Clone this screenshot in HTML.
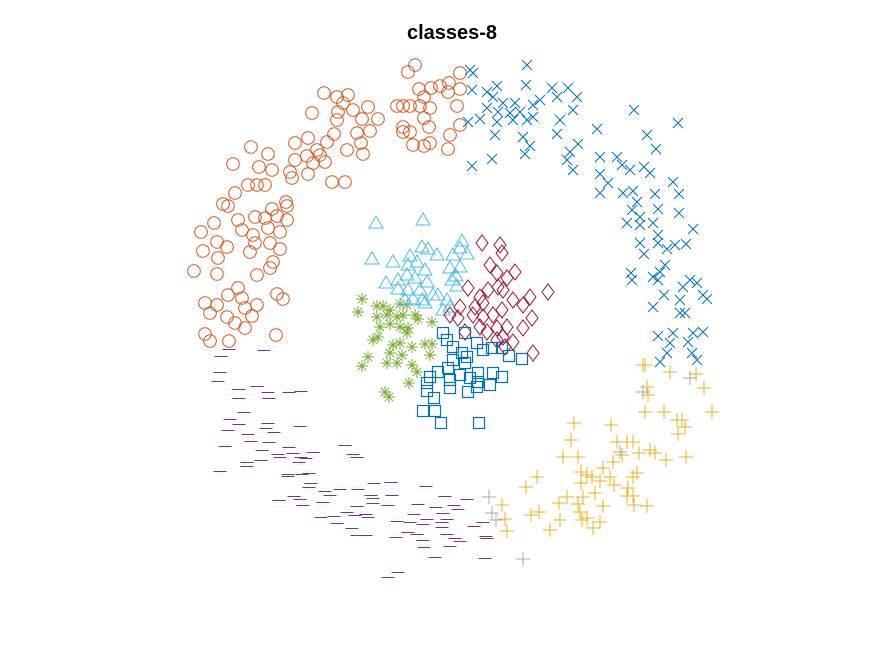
<!DOCTYPE html>
<html><head><meta charset="utf-8"><style>
html,body{margin:0;padding:0;background:#fff;}
svg{display:block;}
</style></head><body>
<svg id="chart" width="875" height="656" viewBox="0 0 875 656" xmlns="http://www.w3.org/2000/svg">
<rect width="875" height="656" fill="#fff"/>
<text x="452" y="39" text-anchor="middle" font-family="Liberation Sans, sans-serif" font-weight="bold" font-size="20" fill="#000">classes-8</text>
<g id="marks"></g>
</svg>
<script>
const classNames=['class-1','class-2','class-3','class-4','class-5','class-6','class-7','class-8'];
const c1=[[41.5,53.5],[40.8,52.8],[46,52.7],[41.9,51.1],[43.1,51.2],[44,51.4],[44.9,51.7],[44.8,50.8],[46,51.1],[42.4,50.3],[32.4,50.7],[33.7,50.3],[34.8,50.5],[34.3,49.7],[35.3,49],[36.8,49.3],[31.2,48.7],[33.8,48.8],[33.7,48],[36.2,48.1],[37.8,48.1],[39.7,49.4],[40.3,49.4],[41,49.4],[42,49.4],[43,49.2],[45.7,49.4],[42.4,48.2],[46,47.5],[40.3,47.3],[40.3,46.8],[41,46.8],[42.9,47.3],[45,46.5],[41.3,45.5],[42.4,45.4],[43,45.7],[44.8,45.1],[35.7,46.7],[37,46.9],[36.1,45.7],[33.4,46.6],[32.7,45.8],[34.7,45],[36.3,44.6],[30.8,46.2],[29.5,45.7],[31.7,45],[32,44.5],[32.5,43.8],[31.3,43.7],[30.7,44.4],[29.5,44],[29,42.8],[29.2,42.2],[30.8,42.6],[33.2,41.8],[34.5,41.8],[25.1,45.3],[26.8,44.6],[23.3,43.6],[25.9,43.3],[27.2,43],[24.8,41.5],[25.7,41.5],[26.5,41.5],[23.5,40.7],[22.3,39.6],[22.8,39.4],[28.6,39.8],[28.7,39.4],[27.2,39.1],[27.7,38.4],[26.5,38.2],[25.5,38.3],[23.8,38],[28.7,38],[21.4,37.7],[20.1,36.8],[24.2,37],[26.8,37.2],[28,36.8],[25.3,36.5],[21.7,35.8],[22.7,35.3],[25.5,35.7],[27,35.7],[28,35.1],[20.3,34.9],[25,34.8],[21.8,34.2],[27.3,33.8],[19.4,32.9],[21.7,32.6],[25.7,32.5],[27,33.2],[22.8,30.5],[23.8,31.2],[24.2,30.2],[20.5,29.7],[21,28.7],[21.7,29.5],[22.7,28.3],[24.5,29.2],[25.7,29.5],[25.2,28.4],[27.7,30.6],[28.3,30.1],[23.5,27.7],[24.5,27.2],[20.5,26.6],[21,25.9],[22.9,25.9],[27.6,26.5]];
const c2=[[52.7,53.5],[47,53],[47.3,52.7],[52.6,51.5],[49.7,51.4],[47.2,51],[48.7,50.8],[55.2,51.2],[56.8,51.2],[57.7,50.3],[55.7,50.3],[49.3,50.3],[50.3,49.7],[51.5,49.7],[54,50],[53.3,49.5],[48.7,49.2],[49.8,48.8],[51,48.7],[52,48.8],[52.7,48],[53.3,48.3],[48,48.1],[46.8,47.8],[49.7,47.8],[51.3,48],[57.3,49],[56,48],[63.4,49],[67.8,47.7],[59.7,47.1],[49.5,46.5],[52.3,46.3],[55.7,46.6],[64.7,46.5],[53,45.4],[52.5,44.6],[57.8,45.6],[57,44.8],[56.7,44],[57.3,43],[49.2,44.1],[47.2,43.4],[65.6,45.1],[60,44.3],[61.7,44.3],[62.2,43.5],[63,43],[64.4,43.3],[65,42.7],[60,42.6],[60.8,41.7],[60,40.7],[62.3,40.7],[63.3,40.9],[67.3,41.8],[67.9,40.6],[65.5,40.6],[63.7,39.8],[63.2,39],[65.8,39.1],[67.9,38.7],[64,38.3],[62.7,37.7],[64,37.5],[65.3,37.7],[69.3,37.1],[65.8,36.5],[64,35.7],[65.8,35.7],[66.7,35.1],[67.5,35.5],[68.6,35.6],[64.4,34.6],[63.1,32.7],[63.2,32],[65.3,32.3],[66,32.8],[66.5,33.5],[65.8,32],[68.3,31.3],[69,32],[69.7,31.7],[70.3,30.5],[70.7,30.1],[66.4,30.5],[68,30],[65.3,29.3],[68,28.7],[68.5,28.7],[65.8,26.4],[67.3,26.7],[67,25.7],[68.8,25.8],[69.3,26.7],[70.3,26.8],[66.7,24.7],[69.2,24.7],[69.7,24],[66,23.8]];
const c3=[[64.3,23.5],[64.5,23.5],[67,22.8],[69.6,22.6],[70.4,21.2],[64.7,21.3],[64.8,20.5],[64.5,18.8],[66.4,18.8],[67.7,18],[68.2,18],[68.5,17.3],[67.8,16.6],[71.2,18.8],[57.4,17.7],[61.1,17.5],[57.1,16],[61.7,15.8],[62.7,15.8],[63.3,15.8],[56.3,14.3],[57.8,14.3],[62.2,14.5],[63.9,14.7],[65,15],[65.5,14.7],[66.6,14],[68.6,14.3],[61.3,13.8],[60.3,13.2],[58.1,12.8],[58.7,12.5],[59.2,12.3],[58.1,11.7],[60,11.9],[61,12.3],[61.4,11.5],[63.3,12.3],[63.7,12.7],[62.8,11.2],[62.7,10.4],[63.3,10.4],[63.4,9.5],[64.7,9.4],[59.5,10.7],[60.3,9.4],[58.3,10.3],[56.7,10.3],[55.9,9.7],[57.8,9.6],[58,8.8],[58.7,8.2],[58.2,8],[60,7.8],[59.3,7.2],[56,8],[55,7],[53.1,8.5],[53.9,8.8],[53.7,12.3],[52.6,11.3],[50.2,9.5],[50.5,8.1],[50.7,6.9]];
const c4=[[22.9,25.1],[26.4,25],[22.1,24.4],[22,22.8],[21.8,21.9],[23.9,21.1],[25.7,21.4],[26.8,20.8],[28.9,20.8],[30.1,20.9],[23.9,20.2],[26.9,20.2],[24.4,18.8],[23,18.1],[23.9,17.6],[26.8,17.7],[22.8,17],[26.6,17.2],[30,17.4],[24.8,16.6],[27.4,16.8],[25.1,15.9],[26.9,15.8],[22.5,15.4],[26.2,15],[28.9,15.3],[27.8,14.6],[28,14.3],[29.3,14.7],[30.1,14.3],[31.3,14.8],[30.6,14.2],[34.5,15.5],[35.3,14.6],[35.7,14.3],[24.7,13.8],[26.1,14],[24.7,13.4],[29.9,13.8],[22,12.9],[28.8,12.6],[28.8,12.4],[30.9,12.7],[30.2,12.6],[31.1,11.7],[30.9,11.3],[32.5,10.9],[34,11.1],[35.8,11.1],[37.4,11.7],[39.1,11.8],[33,10.5],[29.4,10.4],[27.9,10],[30,10.1],[32.3,9.8],[30.3,9.5],[37.1,10.5],[37.3,10.2],[39.2,10.5],[42.6,11.4],[44.5,10.4],[46.7,10.1],[35.7,9.4],[37.3,9.7],[38.8,9.5],[41.8,9.6],[43.6,9.3],[45.4,9.5],[45.8,9.1],[34.7,8.8],[36.6,8.6],[32.1,8.3],[33.4,8.4],[35.5,8.5],[36.8,8.3],[41.4,8.6],[44.3,8.7],[42.7,8.1],[44.7,8.1],[39.7,7.9],[41,7.8],[42.3,7.6],[44.2,7.8],[48.3,7.8],[33.7,7.7],[35.2,7.2],[47.4,7.4],[44.2,7.3],[40.8,6.8],[41.7,6.6],[36.6,6.5],[35.7,6.5],[39.6,6.3],[44.7,6.6],[45.5,6.2],[46,5.9],[48.6,6.4],[48.7,6.2],[42.3,6],[45,5.4],[42.4,5.3],[43.5,4.3],[48.5,4.2],[39.8,2.8],[38.8,2.3]];
const c5=[[36.2,30.1],[35.8,28.8],[37.7,29.4],[38.3,29.4],[39,29],[40,29.6],[40.7,29.5],[37.7,28.3],[38.7,28.5],[39.7,28.3],[40.3,28.5],[41.5,28.5],[41.8,28.1],[38,27.3],[39,27.6],[40,27.3],[40.8,27.2],[43.2,27.8],[37.8,26.3],[37.3,26],[39.3,25.5],[40,25.7],[41.2,25.3],[42.5,25.6],[43.2,25.6],[39,24.7],[40.2,24.5],[43,24.5],[36.8,24.3],[38.7,23.7],[39.7,23.7],[41.2,23.5],[36.2,23.4],[41.7,22.8],[40.9,21.7],[38.5,20.8],[38.9,20.3],[40.7,26.7]];
const c6=[[37.6,37.7],[42.3,38],[37.2,34.1],[39.3,33.8],[41,34.4],[42.2,35.3],[42.8,35.1],[43.7,34.5],[46.2,35.9],[46,35.2],[46.7,34.6],[45.3,34.5],[38.6,31.7],[39.8,32],[40.8,33.5],[41.7,33.8],[42.5,33],[40.7,32.5],[41.5,32.2],[45,33.2],[46,33.3],[45.6,32.4],[45.7,31.4],[39.8,31.1],[40.8,31],[42,31],[43.3,30.5],[43.8,30.5],[42.2,30],[41.3,30.1],[40.5,30],[42.5,29.7],[44.7,30],[44.3,29],[45,29.3],[42.7,31.8],[45.2,32]];
const c7=[[48.2,35.7],[50,35.5],[50.2,34.7],[49,33.5],[49.7,32.7],[50.7,32.2],[51.5,32.8],[46.8,31.2],[48,30.3],[48.8,31],[49.8,31.3],[50.3,31],[51.3,30],[53,30.3],[52.3,29.5],[54.8,30.8],[45,28.5],[46,29.3],[47.5,29.3],[48.3,29.7],[47.3,28.5],[48.3,28.3],[49.3,28.5],[50.2,29],[48,27.3],[48.7,26.8],[49.7,27.2],[50.7,27.3],[50.3,26.3],[51.3,25.8],[52.3,27.2],[53.2,28.2],[46.5,26.8],[45.8,28.2],[53.3,24.7],[50.5,25.3],[49.7,26]];
const c8=[[44.3,26.7],[44.7,26],[46.5,26.7],[47.7,25.7],[48.3,25],[49.2,25.2],[50.2,25.2],[50.9,24.4],[52.2,24.1],[45.3,25.3],[46.2,24.7],[46.7,24.3],[45.3,24],[46.5,23.7],[43.8,22.8],[44.8,23.2],[43,22.3],[42.7,21.7],[45,22],[46,22.5],[47,22.2],[47.8,22.7],[47.8,21.8],[49,21.5],[49.3,22.7],[50.2,22.3],[45,21.2],[46.8,20.8],[47.7,21.3],[42.7,20.9],[43.4,20.2],[42.3,18.9],[43.5,18.9],[44.1,17.7],[47.9,17.7]];
const c9=[[48.9,10.3],[49.2,8.7],[49.6,8],[52.3,4.1],[69,22.2],[62,14.8],[64.3,20.8]];

const X0=0, X1=87.5, Y0=0, Y1=60;
function xScale(v){return (v-X0)/(X1-X0)*875;}
function yScale(v){return 600-(v-Y0)/(Y1-Y0)*600;}
const NS='http://www.w3.org/2000/svg';
const g=document.getElementById('marks');
function el(tag,attrs){const e=document.createElementNS(NS,tag);for(const k in attrs)e.setAttribute(k,attrs[k]);return e;}
function marker(type,color,cx,cy){
  let e;
  if(type==='o') e=el('circle',{cx:cx,cy:cy,r:6.3,fill:'none',stroke:color,'stroke-width':1});
  else if(type==='x'){const s=5;e=el('path',{d:`M${cx-s},${cy-s}L${cx+s},${cy+s}M${cx-s},${cy+s}L${cx+s},${cy-s}`,stroke:color,'stroke-width':1,fill:'none'});}
  else if(type==='+'){const s=7;e=el('path',{d:`M${cx-s},${cy}L${cx+s},${cy}M${cx},${cy-s}L${cx},${cy+s}`,stroke:color,'stroke-width':1,fill:'none'});}
  else if(type==='_'){const s=6.5;const yy=Math.round(cy)+0.5;e=el('path',{d:`M${cx-s},${yy}L${cx+s},${yy}`,stroke:color,'stroke-width':1.2,fill:'none','shape-rendering':'crispEdges'});}
  else if(type==='*'){const s=6,d=4.2;e=el('path',{d:`M${cx-s},${cy}L${cx+s},${cy}M${cx},${cy-s}L${cx},${cy+s}M${cx-d},${cy-d}L${cx+d},${cy+d}M${cx-d},${cy+d}L${cx+d},${cy-d}`,stroke:color,'stroke-width':1,fill:'none'});}
  else if(type==='^'){e=el('path',{d:`M${cx},${cy-7}L${cx+7},${cy+5}L${cx-7},${cy+5}Z`,stroke:color,'stroke-width':1,fill:'none'});}
  else if(type==='d'){e=el('path',{d:`M${cx},${cy-8}L${cx+6},${cy}L${cx},${cy+8}L${cx-6},${cy}Z`,stroke:color,'stroke-width':1,fill:'none'});}
  else if(type==='s'){const s=5.5;e=el('rect',{x:cx-s,y:cy-s,width:2*s,height:2*s,stroke:color,'stroke-width':1.2,fill:'none'});}
  return e;
}
const series=[
 {data:c1,type:'o',color:'#D95319',name:'orange-circle-point'},
 {data:c2,type:'x',color:'#0072BD',name:'blue-cross-point'},
 {data:c3,type:'+',color:'#EDB120',name:'yellow-plus-point'},
 {data:c4,type:'_',color:'#7E2F8E',name:'purple-dash-point'},
 {data:c5,type:'*',color:'#77AC30',name:'green-asterisk-point'},
 {data:c6,type:'^',color:'#4DBEEE',name:'cyan-triangle-point'},
 {data:c7,type:'d',color:'#A2142F',name:'red-diamond-point'},
 {data:c8,type:'s',color:'#0072BD',name:'blue-square-point'},
 {data:c9,type:'+',color:'#A8A8A8',name:'gray-plus-point'}
];
series.forEach(s=>{
  s.data.forEach(p=>{
    const m=marker(s.type,s.color,xScale(p[0]),yScale(p[1]));
    
    
    g.appendChild(m);
  });
});
</script>
</body></html>
